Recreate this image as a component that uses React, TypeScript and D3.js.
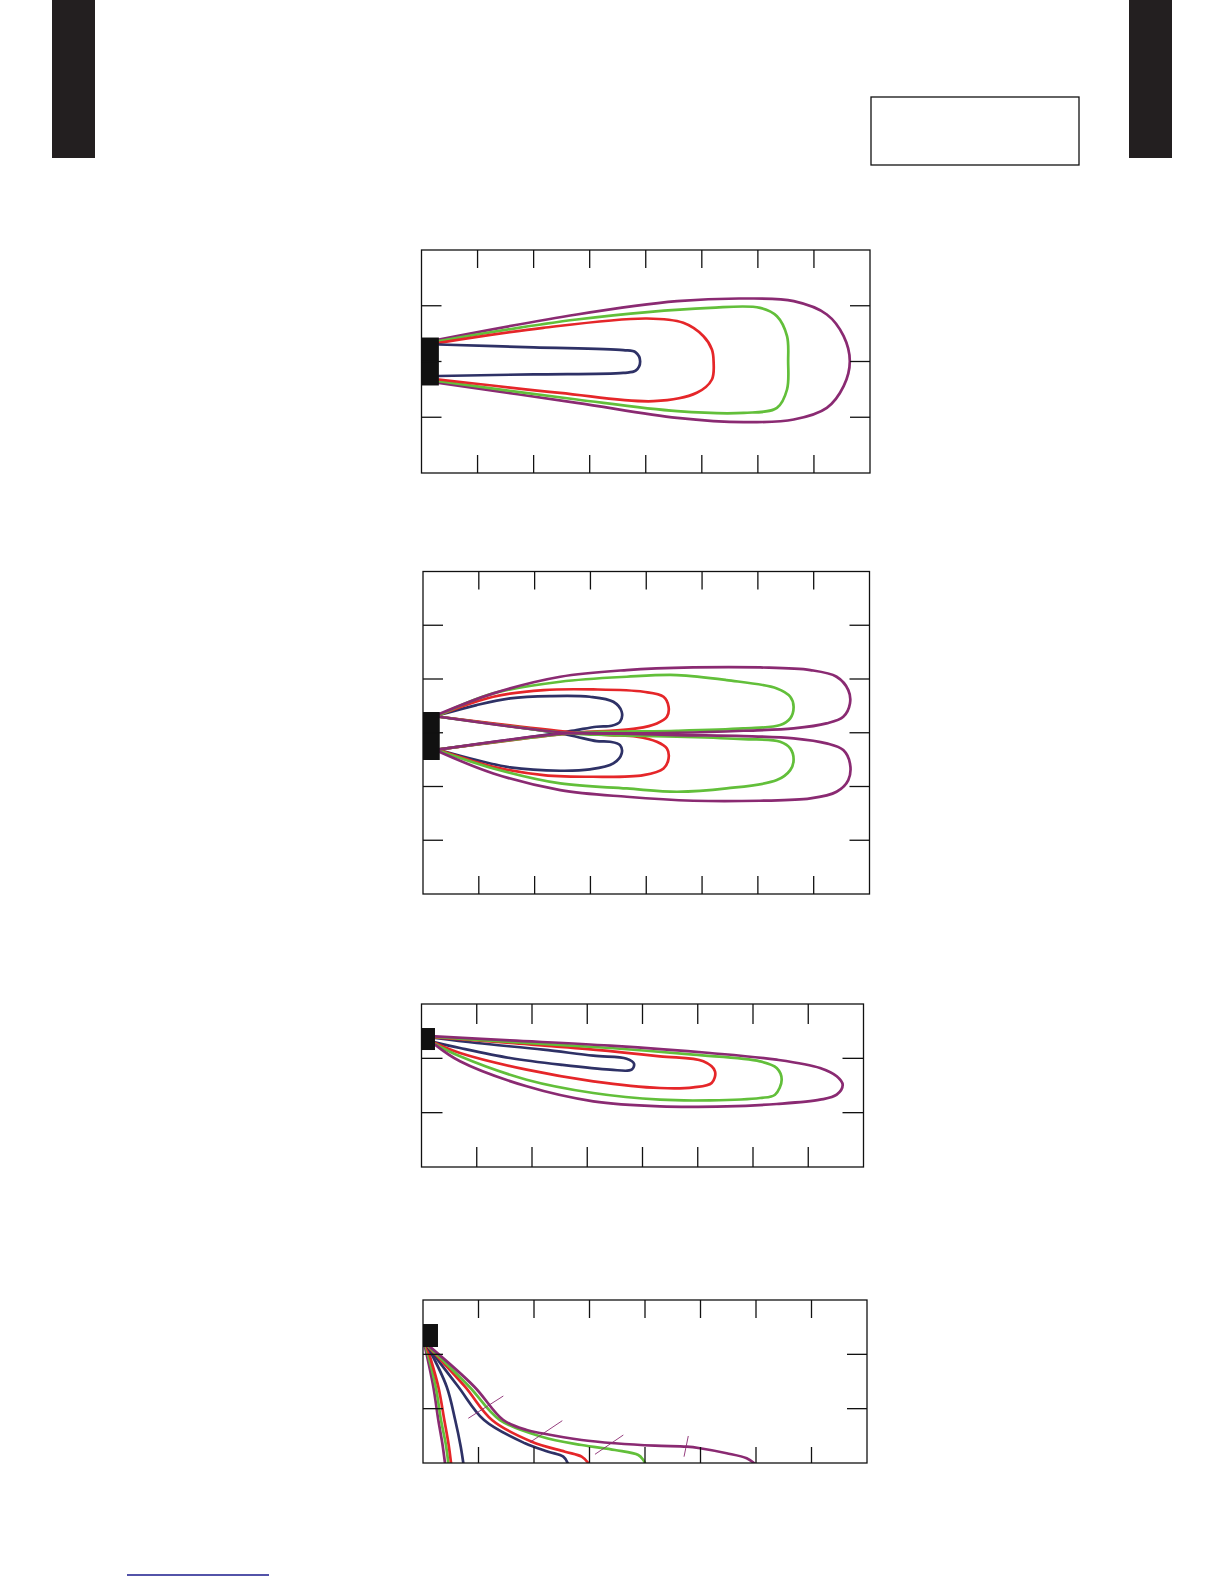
import React from "react";
import * as d3 from "d3";

type Pt = [number, number];

// ---------- Chart 1 (horizontal pattern, x: 0..8 div, y: -2..2 div) ----------
const c1Navy: Pt[] = [[0.31,0.305],[2.0,0.253],[3.6,0.205],[3.82,0.165],[3.9,0.0],[3.82,-0.165],[3.6,-0.203],[2.0,-0.23],[0.31,-0.26]];
const c1Red: Pt[] = [[0.31,0.335],[2.17,0.604],[4.02,0.771],[4.67,0.694],[5.03,0.454],[5.18,0.215],[5.21,0.006],[5.18,-0.323],[4.91,-0.562],[4.14,-0.712],[2.47,-0.562],[0.31,-0.323]];
const c1Green: Pt[] = [[0.31,0.365],[2.77,0.753],[5.15,0.963],[6.04,0.963],[6.34,0.813],[6.52,0.454],[6.54,0.006],[6.52,-0.502],[6.34,-0.831],[5.75,-0.921],[4.56,-0.891],[2.77,-0.682],[0.31,-0.353]];
const c1Purple: Pt[] = [[0.31,0.395],[2.77,0.843],[4.56,1.082],[5.75,1.13],[6.64,1.082],[7.23,0.843],[7.53,0.454],[7.64,0.006],[7.53,-0.442],[7.23,-0.831],[6.64,-1.04],[5.75,-1.088],[4.56,-1.01],[2.77,-0.741],[0.31,-0.383]];

// ---------- Chart 2 (dual lobes, x: 0..8, y: -3..3) ----------
const c2NavyUp: Pt[] = [[0.29,0.329],[0.96,0.515],[1.56,0.639],[2.28,0.682],[2.99,0.67],[3.41,0.577],[3.56,0.391],[3.53,0.205],[3.38,0.13],[3.11,0.112],[2.75,0.05],[2.46,0],[0.29,-0.31]];
const c2NavyLo: Pt[] = [[0.29,-0.322],[0.96,-0.509],[1.56,-0.645],[2.46,-0.707],[2.99,-0.682],[3.41,-0.571],[3.56,-0.384],[3.53,-0.229],[3.35,-0.167],[3.11,-0.155],[2.75,-0.074],[2.46,-0.012],[0.29,0.298]];
const c2RedUp: Pt[] = [[0.29,0.329],[1.26,0.67],[2.16,0.794],[3.05,0.806],[3.95,0.763],[4.31,0.67],[4.4,0.484],[4.37,0.298],[4.19,0.174],[3.83,0.081],[3.35,0.037],[2.75,0],[0.29,-0.31]];
const c2RedLo: Pt[] = [[0.29,-0.322],[1.26,-0.633],[2.16,-0.788],[3.05,-0.819],[3.95,-0.788],[4.31,-0.664],[4.4,-0.478],[4.37,-0.291],[4.19,-0.167],[3.83,-0.074],[3.35,-0.043],[2.75,0],[0.29,0.298]];
const c2GreenUp: Pt[] = [[0.29,0.329],[1.26,0.732],[2.46,0.949],[3.65,1.042],[4.55,1.073],[5.44,0.98],[6.34,0.825],[6.58,0.67],[6.64,0.484],[6.58,0.267],[6.4,0.143],[5.74,0.081],[4.55,0.037],[3.35,0.019],[2.63,-0.012],[0.29,-0.31]];
const c2GreenLo: Pt[] = [[0.29,-0.335],[1.26,-0.664],[2.46,-0.943],[3.65,-1.036],[4.55,-1.098],[5.44,-1.036],[6.34,-0.881],[6.58,-0.695],[6.64,-0.509],[6.58,-0.291],[6.4,-0.167],[5.74,-0.118],[4.55,-0.074],[3.35,-0.043],[2.63,-0.012],[0.29,0.298]];
const c2PurpleUp: Pt[] = [[0.29,0.347],[1.26,0.732],[2.46,1.042],[3.65,1.166],[4.84,1.215],[6.04,1.215],[6.94,1.166],[7.41,1.042],[7.62,0.794],[7.65,0.546],[7.53,0.298],[7.23,0.174],[6.64,0.081],[5.74,0.037],[4.55,0],[3.35,-0.012],[2.57,-0.012],[0.29,-0.31]];
const c2PurpleLo: Pt[] = [[0.29,-0.353],[1.26,-0.757],[2.46,-1.067],[3.65,-1.191],[4.84,-1.265],[6.04,-1.265],[6.94,-1.222],[7.41,-1.098],[7.62,-0.881],[7.65,-0.571],[7.53,-0.322],[7.23,-0.198],[6.64,-0.105],[5.74,-0.062],[4.55,-0.043],[3.35,-0.012],[2.57,0],[0.29,0.298]];

// ---------- Chart 3 (tilted lobes, x: 0..8, y: 0..3) ----------
const c3Navy: Pt[] = [[0.244,2.374],[0.998,2.282],[2.205,2.16],[3.11,2.049],[3.713,1.994],[3.846,1.902],[3.804,1.791],[3.412,1.791],[2.507,1.883],[1.602,2.006],[0.697,2.19],[0.244,2.294]];
const c3Red: Pt[] = [[0.244,2.387],[1.602,2.282],[3.11,2.16],[4.317,2.037],[5.101,1.945],[5.312,1.761],[5.252,1.546],[4.921,1.466],[4.317,1.454],[3.11,1.577],[1.903,1.791],[0.697,2.098],[0.244,2.282]];
const c3Green: Pt[] = [[0.244,2.393],[1.602,2.301],[3.412,2.19],[4.921,2.067],[6.127,1.945],[6.428,1.822],[6.519,1.607],[6.398,1.331],[6.127,1.27],[5.222,1.227],[4.317,1.239],[3.11,1.362],[1.903,1.607],[0.697,2.037],[0.244,2.264]];
const c3Purple: Pt[] = [[0.244,2.405],[1.602,2.331],[3.412,2.233],[5.222,2.098],[6.428,1.975],[7.213,1.822],[7.515,1.669],[7.623,1.515],[7.515,1.331],[7.213,1.239],[6.428,1.16],[5.523,1.117],[4.317,1.117],[3.11,1.209],[1.903,1.485],[0.697,1.945],[0.244,2.252]];

// ---------- Chart 4 (floor coverage, x: 0..8, y: 0..3) ----------
const c4PurpleSteep: Pt[] = [[0.036,2.135],[0.186,1.404],[0.276,0.791],[0.35,0.35],[0.396,0]];
const c4GreenSteep: Pt[] = [[0.054,2.135],[0.229,1.404],[0.324,0.791],[0.41,0.35],[0.456,0]];
const c4RedSteep: Pt[] = [[0.072,2.135],[0.276,1.404],[0.384,0.791],[0.46,0.35],[0.505,0]];
const c4NavySteep: Pt[] = [[0.09,2.135],[0.427,1.404],[0.58,0.791],[0.68,0.3],[0.726,0]];
const c4PurpleShallow: Pt[] = [[0.126,2.137],[0.925,1.404],[1.447,0.791],[1.868,0.607],[2.139,0.547],[2.859,0.423],[3.459,0.363],[4.18,0.318],[4.751,0.3],[4.991,0.271],[5.472,0.179],[5.832,0.087],[5.964,0]];
const c4GreenShallow: Pt[] = [[0.108,2.135],[0.835,1.404],[1.387,0.791],[2.139,0.484],[2.859,0.331],[3.459,0.239],[3.879,0.147],[3.969,0.055],[4.0,0]];
const c4RedShallow: Pt[] = [[0.1,2.135],[0.757,1.404],[1.243,0.791],[1.959,0.392],[2.559,0.208],[2.859,0.116],[2.978,0]];
const c4NavyShallow: Pt[] = [[0.09,2.135],[0.636,1.404],[1.1,0.791],[1.838,0.363],[2.258,0.208],[2.528,0.116],[2.607,0]];
const c4Leaders: [Pt, Pt][] = [
  [[0.816,0.823],[1.447,1.233]],
  [[1.928,0.381],[2.51,0.779]],
  [[3.099,0.16],[3.609,0.515]],
  [[4.703,0.116],[4.78,0.497]],
];

// emitter blocks [x0, x1, yTop, yBottom] in data units
const c1Block = [0, 0.31, 0.43, -0.43];
const c2Block = [0, 0.3, 0.386, -0.507];
const c3Block = [0, 0.244, 2.558, 2.153];
const c4Block = [0, 0.27, 2.558, 2.135];

const NAVY = "#2e3166";
const RED = "#e52629";
const GREEN = "#62bf3a";
const PURPLE = "#8a2a72";

type Series = { pts: Pt[]; color: string };

function Chart(props: {
  left: number; right: number; top: number; bottom: number;
  yDomain: [number, number]; yDivs: number;
  series: Series[]; block: number[]; leaders?: [Pt, Pt][];
  tickH: number; tickV: number; bottomTick?: number;
}) {
  const { left, right, top, bottom, yDomain, yDivs, series, block, leaders, tickH, tickV } = props;
  const bTick = props.bottomTick ?? tickH;
  const x = d3.scaleLinear().domain([0, 8]).range([left, right]);
  const y = d3.scaleLinear().domain(yDomain).range([bottom, top]);
  const line = d3.line<Pt>().x(d => x(d[0])).y(d => y(d[1])).curve(d3.curveCatmullRom.alpha(0.5));
  const xTicks = d3.range(1, 8);
  const yTicks = d3.range(1, yDivs).map(i => yDomain[0] + (i * (yDomain[1] - yDomain[0])) / yDivs);
  const clipId = `clip-${Math.round(top)}`;
  return (
    <g>
      <defs>
        <clipPath id={clipId}>
          <rect x={left} y={top} width={right - left} height={bottom - top} />
        </clipPath>
      </defs>
      <g clipPath={`url(#${clipId})`}>
        {series.map((s, i) => (
          <path key={i} d={line(s.pts) || ""} fill="none" stroke={s.color} strokeWidth={2.7} strokeLinejoin="round" strokeLinecap="round" />
        ))}
        {leaders && leaders.map((l, i) => (
          <line key={i} x1={x(l[0][0])} y1={y(l[0][1])} x2={x(l[1][0])} y2={y(l[1][1])} stroke={PURPLE} strokeWidth={0.9} />
        ))}
      </g>
      <rect x={x(block[0])} y={y(block[2])} width={x(block[1]) - x(block[0])} height={y(block[3]) - y(block[2])} fill="#111" />
      <rect x={left} y={top} width={right - left} height={bottom - top} fill="none" stroke="#111" strokeWidth={1.3} />
      {xTicks.map(t => (
        <g key={t}>
          <line x1={x(t)} x2={x(t)} y1={top} y2={top + tickH} stroke="#111" strokeWidth={1.3} />
          <line x1={x(t)} x2={x(t)} y1={bottom} y2={bottom - bTick} stroke="#111" strokeWidth={1.3} />
        </g>
      ))}
      {yTicks.map((t, i) => (
        <g key={i}>
          <line x1={left} x2={left + tickV} y1={y(t)} y2={y(t)} stroke="#111" strokeWidth={1.3} />
          <line x1={right} x2={right - tickV} y1={y(t)} y2={y(t)} stroke="#111" strokeWidth={1.3} />
        </g>
      ))}
    </g>
  );
}

export default function App() {
  return (
    <svg width={1224} height={1584} style={{ position: "absolute", left: 0, top: 0, background: "#fff" }}>
      <rect x={52} y={0} width={43} height={158} fill="#231f20" />
      <rect x={1129} y={0} width={43} height={158} fill="#231f20" />
      <rect x={871} y={97} width={208} height={68} fill="none" stroke="#111" strokeWidth={1.3} />

      <Chart left={421.5} right={870} top={250} bottom={473} yDomain={[-2, 2]} yDivs={4}
        tickH={18} tickV={20} block={c1Block}
        series={[
          { pts: c1Purple, color: PURPLE },
          { pts: c1Green, color: GREEN },
          { pts: c1Red, color: RED },
          { pts: c1Navy, color: NAVY },
        ]} />

      <Chart left={423} right={869.5} top={571.5} bottom={894} yDomain={[-3, 3]} yDivs={6}
        tickH={18} tickV={20} block={c2Block}
        series={[
          { pts: c2NavyUp, color: NAVY },
          { pts: c2NavyLo, color: NAVY },
          { pts: c2RedUp, color: RED },
          { pts: c2RedLo, color: RED },
          { pts: c2GreenUp, color: GREEN },
          { pts: c2GreenLo, color: GREEN },
          { pts: c2PurpleUp, color: PURPLE },
          { pts: c2PurpleLo, color: PURPLE },
        ]} />

      <Chart left={421.5} right={863.5} top={1004} bottom={1167} yDomain={[0, 3]} yDivs={3}
        tickH={20} tickV={21} block={c3Block}
        series={[
          { pts: c3Navy, color: NAVY },
          { pts: c3Red, color: RED },
          { pts: c3Green, color: GREEN },
          { pts: c3Purple, color: PURPLE },
        ]} />

      <Chart left={423} right={867} top={1300} bottom={1463} yDomain={[0, 3]} yDivs={3}
        tickH={18} tickV={20} bottomTick={16} block={c4Block} leaders={c4Leaders}
        series={[
          { pts: c4PurpleSteep, color: PURPLE },
          { pts: c4GreenSteep, color: GREEN },
          { pts: c4RedSteep, color: RED },
          { pts: c4NavySteep, color: NAVY },
          { pts: c4NavyShallow, color: NAVY },
          { pts: c4RedShallow, color: RED },
          { pts: c4GreenShallow, color: GREEN },
          { pts: c4PurpleShallow, color: PURPLE },
        ]} />

      <line x1={127} x2={269} y1={1575} y2={1575} stroke="#1a1a8c" strokeWidth={1.5} />
    </svg>
  );
}
